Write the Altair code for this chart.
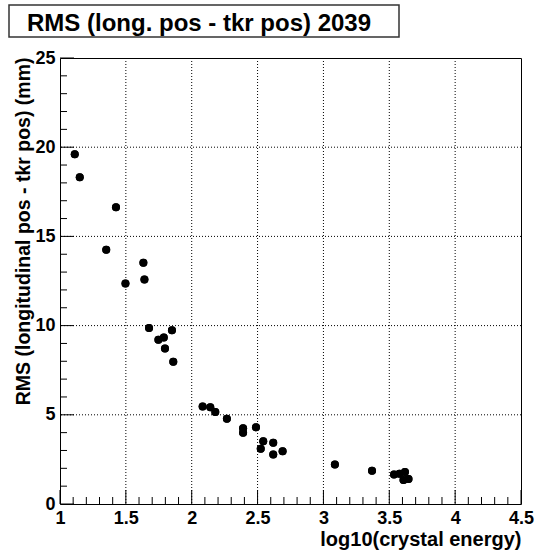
import altair as alt
import pandas as pd

# Measured RMS of (longitudinal position - tracker position) per energy bin
energy_log = [1.112, 1.150, 1.425, 1.351, 1.497, 1.633, 1.641, 1.676, 1.850,
              1.747, 1.788, 1.797, 1.860,
              2.083, 2.141, 2.179, 2.267, 2.390, 2.390, 2.488, 2.543, 2.524,
              2.619, 2.619, 2.690, 3.087,
              3.369, 3.536, 3.577, 3.619, 3.608, 3.646]
rms_mm = [19.61, 18.31, 16.63, 14.25, 12.36, 13.52, 12.58, 9.87, 9.74,
          9.20, 9.33, 8.71, 7.98,
          5.47, 5.43, 5.15, 4.78, 4.25, 3.99, 4.30, 3.52, 3.09,
          3.43, 2.77, 2.96, 2.21,
          1.87, 1.65, 1.70, 1.79, 1.34, 1.40]

title_text = "RMS (long. pos - tkr pos) 2039"
x_title = "log10(crystal energy)"
y_title = "RMS (longitudinal pos - tkr pos) (mm)"

# Axis tick values (major labelled, minor unlabelled) and grid positions
x_major = [1.0, 1.5, 2.0, 2.5, 3.0, 3.5, 4.0, 4.5]
x_minor = [round(1.0 + 0.1 * i, 1) for i in range(36) if i % 5 != 0]
y_major = [0, 5, 10, 15, 20, 25]
y_minor = [i for i in range(26) if i % 5 != 0]
x_grid = [1.5, 2.0, 2.5, 3.0, 3.5, 4.0]
y_grid = [5, 10, 15, 20]

W, H = 461, 446
FONT = "Liberation Sans"

df = pd.DataFrame({"energy": energy_log, "rms": rms_mm})

x_scale = alt.Scale(domain=[1, 4.5], nice=False, zero=False)
y_scale = alt.Scale(domain=[0, 25], nice=False, zero=False)

x_axis = alt.Axis(
    values=x_major, format="~g", grid=False, ticks=False, tickSize=0, domain=False,
    labelFont=FONT, labelFontWeight="bold", labelFontSize=18, labelColor="black",
    labelPadding=5, labelFlush=False, labelOverlap=False,
    title=x_title, titleFont=FONT, titleFontWeight="bold", titleFontSize=20,
    titleColor="black", titleAlign="right", titleAnchor="end",
    titleBaseline="alphabetic", titleX=W, titleY=41,
)
y_axis = alt.Axis(
    values=y_major, format="d", grid=False, ticks=False, tickSize=0, domain=False,
    labelFont=FONT, labelFontWeight="bold", labelFontSize=18, labelColor="black",
    labelPadding=5, labelFlush=False, labelOverlap=False,
    title=y_title, titleFont=FONT, titleFontWeight="bold", titleFontSize=19.5,
    titleColor="black", titleAngle=270, titleAlign="right",
    titleBaseline="alphabetic", titleX=-31, titleY=-1,
)

def xenc(field):
    return alt.X(field, scale=x_scale, axis=x_axis)

def yenc(field):
    return alt.Y(field, scale=y_scale, axis=y_axis)

points = alt.Chart(df).mark_circle(size=64, color="black", opacity=1).encode(
    x=xenc("energy:Q"), y=yenc("rms:Q"),
)

dotted = dict(color="black", strokeWidth=1, strokeDash=[1, 2])

vgrid = alt.Chart(pd.DataFrame({"energy": x_grid})).mark_rule(**dotted).encode(
    x=xenc("energy:Q")
)
hgrid = alt.Chart(pd.DataFrame({"rms": y_grid})).mark_rule(**dotted).encode(
    y=yenc("rms:Q")
)

# Inward-pointing ticks along the bottom and left edges
def x_ticks(vals, length):
    return alt.Chart(pd.DataFrame({"energy": vals})).mark_rule(color="black", strokeWidth=1).encode(
        x=xenc("energy:Q"),
        y=alt.value(H), y2=alt.value(H - length),
    )

def y_ticks(vals, length):
    return alt.Chart(pd.DataFrame({"rms": vals})).mark_rule(color="black", strokeWidth=1).encode(
        y=yenc("rms:Q"),
        x=alt.value(0), x2=alt.value(length),
    )

# Boxed title at the top-left of the canvas
title_df = pd.DataFrame({"t": [title_text]})
title_box = alt.Chart(title_df).mark_rect(
    fill="white", stroke="#333333", strokeWidth=1.5
).encode(
    x=alt.value(-51), x2=alt.value(339), y=alt.value(-53), y2=alt.value(-21)
)
title_label = alt.Chart(title_df).mark_text(
    align="left", baseline="alphabetic", font=FONT, fontWeight="bold",
    fontSize=24, color="black"
).encode(x=alt.value(-33), y=alt.value(-27), text="t:N")

chart = alt.layer(
    points, vgrid, hgrid,
    x_ticks(x_minor, 7), x_ticks(x_major, 14),
    y_ticks(y_minor, 7), y_ticks(y_major, 14),
    points, title_box, title_label,
).properties(
    width=W, height=H,
    autosize=alt.AutoSizeParams(type="none"),
    padding={"left": 60, "top": 58, "right": 14, "bottom": 48},
    background="white",
).configure_view(
    stroke="black", strokeWidth=1
)

chart.save("out.html", embed_options={"renderer": "svg", "actions": False})
